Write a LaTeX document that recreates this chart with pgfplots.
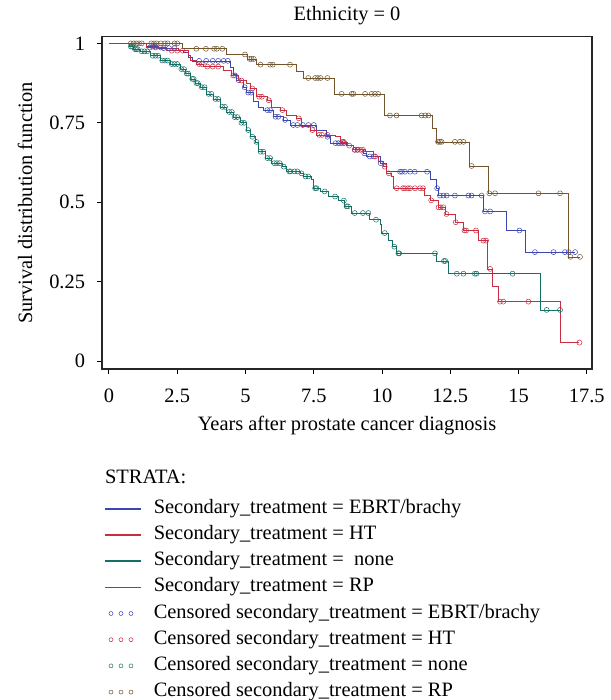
\documentclass[border=0pt]{standalone}
\usepackage{fontspec}
\setmainfont{Liberation Serif}
\usepackage{pgfplots}
\pgfplotsset{compat=1.18}
\definecolor{cB}{RGB}{60,70,175}
\definecolor{cR}{RGB}{200,45,65}
\definecolor{cG}{RGB}{20,112,100}
\definecolor{cP}{RGB}{115,85,45}
\pgfplotsset{
  censleg/.style={legend image code/.code={\path (0bp,0bp) (36bp,0bp); \draw[##1, mark size=2bp] plot coordinates {(6bp,0bp) (16bp,0bp) (26bp,0bp)};}},
  cens/.style={only marks, mark=o, mark size=2.5bp, color=#1, mark options={line width=0.5bp}, censleg},
  surv/.style={const plot, color=#1, legend image code/.code={\draw[color=#1, line width=1.6bp] (0bp,0bp) -- (36bp,0bp);}},
}
\begin{document}
\fontsize{20.5}{24}\selectfont
\begin{tikzpicture}
\useasboundingbox (0bp,0bp) rectangle (611bp,700bp);
\begin{axis}[
  at={(102bp,331bp)}, anchor=south west,
  width=490bp, height=332.3bp, scale only axis,
  xmin=-0.256, xmax=17.69, ymin=-0.025, ymax=1.021,
  xtick={0,2.5,5,7.5,10,12.5,15,17.5},
  ytick={0,0.25,0.5,0.75,1},
  tick pos=left, tick align=outside, major tick length=5bp,
  tick style={line width=1bp, black},
  axis line style={line width=1.2bp, black!85},
  /pgf/number format/assume math mode=true,
  xticklabel style={yshift=-8bp},
  yticklabel style={xshift=-5bp},
  title={Ethnicity = 0},
  title style={at={(axis description cs:0.5,1.032)}, anchor=base, inner sep=0pt},
  xlabel={Years after prostate cancer diagnosis},
  xlabel style={at={(axis description cs:0.5,-0.1857)}, anchor=base, inner sep=0pt},
  ylabel={Survival distribution function},
  ylabel style={at={(axis description cs:-0.157,0.5)}, anchor=center, inner sep=0pt},
  clip mode=individual,
  legend cell align=left,
  legend style={at={(axis description cs:0,0)}, anchor=north west, xshift=2bp, yshift=-130bp,
    draw=none, fill=none, inner sep=0pt, row sep=7.2bp, /tikz/column sep=12bp,
    nodes={inner sep=0pt, text height=14bp, text depth=5bp}},
  every axis plot/.append style={line width=0.6bp},
]
% ---------- survival curves ----------
\addplot[surv=cB] coordinates {
(0,1) (1.38,0.99) (1.8,0.985) (2.54,0.979) (2.72,0.972) (2.9,0.956) (3.05,0.945)
(4.43,0.926) (4.55,0.904) (4.68,0.884) (4.92,0.862) (5.04,0.845) (5.29,0.818)
(5.47,0.8) (5.65,0.79) (6.02,0.769) (6.38,0.759) (6.63,0.743) (7.61,0.727)
(7.97,0.706) (8.1,0.686) (8.7,0.68) (8.95,0.665) (9.32,0.654) (9.44,0.644)
(9.93,0.623) (10.17,0.596) (11.76,0.571) (12.0,0.544) (12.06,0.521)
(13.71,0.471) (14.54,0.411) (15.26,0.343) (17.07,0.343)};
\addlegendentry{Secondary\_treatment = EBRT/brachy}
\addplot[surv=cR] coordinates {
(0,1) (1.38,0.987) (2.11,0.977) (2.9,0.962) (2.97,0.946) (3.21,0.935) (3.46,0.927)
(4.19,0.914) (4.49,0.899) (4.74,0.883) (5.04,0.874) (5.16,0.858) (5.41,0.832)
(5.78,0.821) (5.96,0.8) (6.26,0.79) (6.51,0.774) (6.87,0.764) (7.06,0.738)
(7.36,0.727) (7.61,0.712) (8.28,0.706) (8.46,0.69) (8.71,0.678) (8.95,0.665)
(9.38,0.659) (9.68,0.644) (9.87,0.628) (10.05,0.612) (10.17,0.591) (10.35,0.581)
(10.42,0.544) (11.56,0.523) (11.76,0.506) (12.05,0.484) (12.33,0.463)
(12.67,0.437) (12.98,0.411) (13.53,0.379) (13.86,0.29) (14.05,0.236)
(14.24,0.187) (16.54,0.058) (17.23,0.058)};
\addlegendentry{Secondary\_treatment = HT}
\addplot[surv=cG] coordinates {
(0,1) (0.74,0.99) (0.9,0.982) (1.14,0.975) (1.5,0.961) (1.87,0.946) (2.23,0.935)
(2.6,0.919) (2.8,0.905) (2.97,0.888) (3.15,0.875) (3.33,0.862) (3.58,0.841)
(3.82,0.825) (4.07,0.8) (4.31,0.784) (4.55,0.768) (4.8,0.75) (5.04,0.727)
(5.16,0.706) (5.35,0.69) (5.47,0.659) (5.71,0.639) (5.96,0.623) (6.33,0.612)
(6.51,0.597) (7.0,0.591) (7.12,0.581) (7.42,0.571) (7.48,0.544) (7.73,0.534)
(8.03,0.518) (8.4,0.505) (8.61,0.487) (8.89,0.466) (9.54,0.445) (9.93,0.43)
(9.99,0.403) (10.23,0.38) (10.39,0.36) (10.54,0.339) (12.0,0.315) (12.43,0.275)
(15.79,0.161) (16.54,0.161)};
\addlegendentry{Secondary\_treatment = \ none}
\addplot[surv=cP] coordinates {
(0,1) (2.68,0.983) (4.31,0.965) (5.08,0.951) (5.41,0.933) (6.85,0.912) (7.1,0.891)
(8.25,0.841) (10.1,0.773) (11.85,0.732) (12.0,0.69) (13.2,0.614) (13.9,0.528)
(16.83,0.328) (17.25,0.328)};
\addlegendentry{Secondary\_treatment = RP}
% ---------- censored observations ----------
\addplot[cens=cB] coordinates {
(1.6,0.99) (1.7,0.99) (2.0,0.985) (2.2,0.985) (2.4,0.985) (3.3,0.945) (3.56,0.945)
(3.8,0.945) (4.0,0.945) (4.2,0.945) (4.35,0.945) (4.75,0.884) (4.97,0.862)
(5.1,0.845) (5.2,0.845) (5.8,0.79) (5.9,0.79) (6.1,0.769) (6.2,0.769) (6.45,0.759)
(6.75,0.743) (6.9,0.743) (7.1,0.743) (7.3,0.743) (7.5,0.743) (8.0,0.706)
(8.3,0.686) (8.4,0.686) (8.5,0.686) (8.6,0.686) (9.0,0.665) (9.1,0.665)
(9.35,0.654) (9.55,0.644) (9.7,0.644) (9.95,0.623) (10.66,0.596) (10.73,0.596)
(10.84,0.596) (11.03,0.596) (11.2,0.596) (11.65,0.596) (12.02,0.544)
(12.12,0.521) (12.25,0.521) (12.37,0.521) (12.67,0.521) (13.16,0.521)
(13.28,0.521) (13.65,0.521) (13.77,0.471) (13.96,0.471) (15.03,0.411)
(15.6,0.343) (16.28,0.343) (16.7,0.343) (16.83,0.343) (17.07,0.343)};
\addlegendentry{Censored secondary\_treatment = EBRT/brachy}
\addplot[cens=cR] coordinates {
(1.5,0.987) (1.7,0.987) (1.9,0.987) (2.3,0.977) (2.5,0.977) (2.7,0.977) (3.3,0.935)
(3.4,0.935) (3.6,0.927) (3.8,0.927) (4.0,0.927) (4.55,0.899) (4.62,0.899)
(4.85,0.883) (5.25,0.858) (5.5,0.832) (5.6,0.832) (5.85,0.821) (6.35,0.79)
(6.95,0.764) (7.45,0.727) (7.7,0.712) (7.8,0.712) (8.0,0.712) (8.55,0.69)
(8.6,0.69) (8.8,0.678) (9.0,0.665) (9.1,0.665) (9.2,0.665) (9.3,0.665)
(9.75,0.644) (10.1,0.612) (10.25,0.591) (10.54,0.544) (10.77,0.544) (10.84,0.544)
(10.95,0.544) (11.03,0.544) (11.21,0.544) (11.39,0.544) (11.5,0.544) (11.8,0.506)
(12.07,0.484) (12.15,0.484) (12.25,0.484) (12.36,0.463) (12.7,0.437)
(13.02,0.411) (13.08,0.411) (13.44,0.411) (13.71,0.379) (13.81,0.379)
(13.96,0.29) (14.32,0.187) (14.44,0.187) (15.36,0.187) (17.23,0.058)};
\addlegendentry{Censored secondary\_treatment = HT}
\addplot[cens=cG] coordinates {
(0.8,0.99) (0.85,0.99) (0.95,0.982) (1.0,0.982) (1.05,0.982) (1.2,0.975) (1.3,0.975)
(1.4,0.975) (1.6,0.961) (1.7,0.961) (1.8,0.961) (1.95,0.946) (2.05,0.946)
(2.15,0.946) (2.3,0.935) (2.4,0.935) (2.5,0.935) (2.65,0.919) (2.75,0.919)
(2.85,0.905) (2.9,0.905) (3.05,0.888) (3.1,0.888) (3.2,0.875) (3.25,0.875)
(3.4,0.862) (3.5,0.862) (3.65,0.841) (3.75,0.841) (3.9,0.825) (4.0,0.825)
(4.15,0.8) (4.25,0.8) (4.4,0.784) (4.5,0.784) (4.6,0.768) (4.7,0.768) (4.85,0.75)
(4.95,0.75) (5.1,0.727) (5.25,0.706) (5.4,0.69) (5.55,0.659) (5.65,0.659)
(5.8,0.639) (5.9,0.639) (6.05,0.623) (6.15,0.623) (6.25,0.623) (6.4,0.612)
(6.6,0.597) (6.65,0.597) (6.8,0.597) (6.9,0.597) (7.05,0.591) (7.2,0.581)
(7.3,0.581) (7.55,0.544) (7.6,0.544) (7.9,0.534) (8.28,0.518) (8.6,0.505)
(8.7,0.487) (8.75,0.487) (9.0,0.466) (9.3,0.466) (9.5,0.466) (9.78,0.445)
(10.1,0.403) (10.45,0.36) (10.6,0.339) (10.63,0.339) (11.94,0.339) (12.27,0.315)
(12.32,0.315) (12.74,0.275) (12.98,0.275) (13.4,0.275) (13.46,0.275)
(14.78,0.275) (16.03,0.161) (16.52,0.161)};
\addlegendentry{Censored secondary\_treatment = none}
\addplot[cens=cP] coordinates {
(0.8,1) (0.9,1) (1.0,1) (1.1,1) (1.2,1) (1.55,1) (1.65,1) (1.75,1) (1.9,1)
(2.05,1) (2.15,1) (2.4,1) (2.5,1) (3.2,0.983) (3.55,0.983) (3.85,0.983)
(3.95,0.983) (4.15,0.983) (4.98,0.965) (5.15,0.951) (5.22,0.951) (5.3,0.951)
(5.55,0.933) (5.9,0.933) (6.0,0.933) (6.63,0.933) (7.3,0.891) (7.55,0.891)
(7.65,0.891) (7.75,0.891) (8.0,0.891) (8.52,0.841) (8.89,0.841) (8.95,0.841)
(9.38,0.841) (9.62,0.841) (9.74,0.841) (9.86,0.841) (10.29,0.773) (10.53,0.773)
(11.45,0.773) (11.58,0.773) (11.7,0.773) (12.05,0.69) (12.12,0.69) (12.18,0.69)
(12.67,0.69) (12.85,0.69) (12.98,0.69) (13.28,0.614) (13.93,0.528)
(14.14,0.528) (15.73,0.528) (16.52,0.528) (16.9,0.328) (17.25,0.328)};
\addlegendentry{Censored secondary\_treatment = RP}
\node[anchor=base west, inner sep=0pt] at (axis description cs:0.006,-0.344) {STRATA:};
\end{axis}
\end{tikzpicture}
\end{document}
